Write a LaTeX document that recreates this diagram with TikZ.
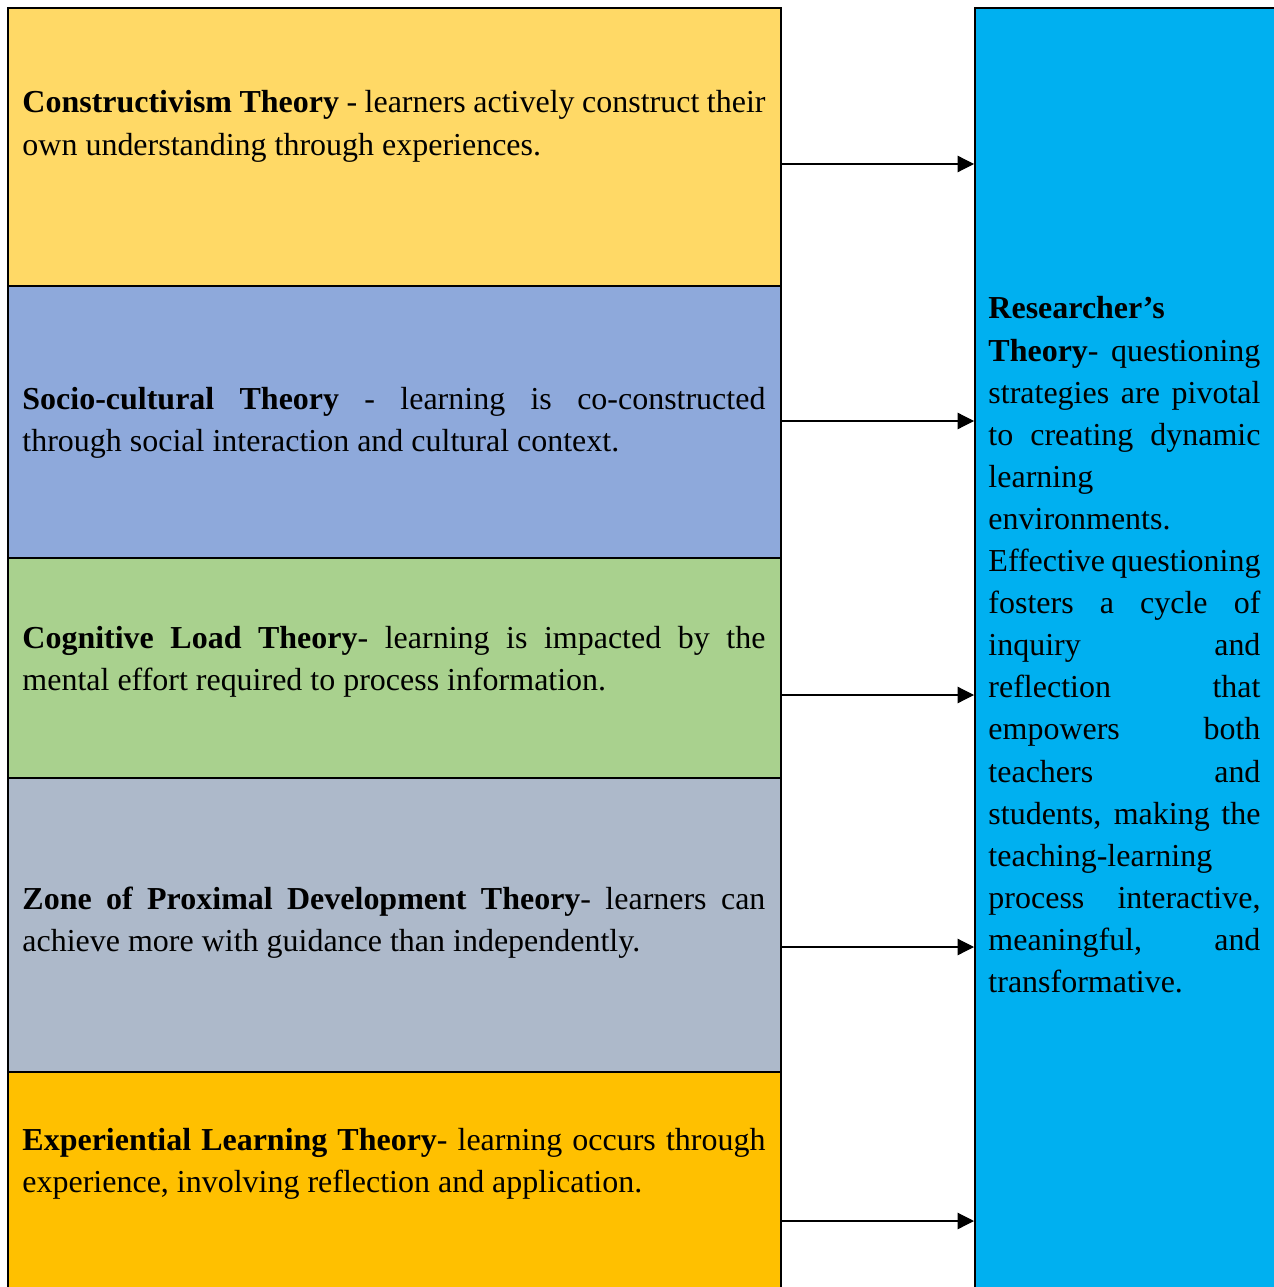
\documentclass[tikz,border=0pt]{standalone}
\usepackage{fontspec}
\setmainfont{Liberation Serif}
\usepackage{xcolor}
\usetikzlibrary{arrows.meta}

\definecolor{consyellow}{HTML}{FFD966}
\definecolor{socblue}{HTML}{8EA9DB}
\definecolor{coggreen}{HTML}{A9D18E}
\definecolor{zpdgrey}{HTML}{ADB9CA}
\definecolor{exporange}{HTML}{FFC000}
\definecolor{rescyan}{HTML}{00B0F0}

\newcommand\pxl{0.43pt}
\tolerance=10000
\hyphenpenalty=10000

\tikzset{
  theory/.style={anchor=north west, draw, line width=1pt, inner sep=0pt,
                 minimum width=773*\pxl},
  blurb/.style={anchor=base west, inner sep=0pt, align=justify,
                text width=743*\pxl, font=\fontsize{13.75}{18.1}\selectfont},
  feed/.style={-{Triangle[length=7pt,width=7pt]}, line width=0.5pt}
}

\begin{document}
\begin{tikzpicture}[x=0.43pt, y=-0.43pt]
  \useasboundingbox (0,0) rectangle (1274,1287);

  % theory boxes on the left
  \node[theory, fill=consyellow, minimum height=278*\pxl] (cons) at (7,7)    {};
  \node[theory, fill=socblue,    minimum height=272*\pxl] (soc)  at (7,285)  {};
  \node[theory, fill=coggreen,   minimum height=220*\pxl] (cog)  at (7,557)  {};
  \node[theory, fill=zpdgrey,    minimum height=294*\pxl] (zpd)  at (7,777)  {};
  \node[theory, fill=exporange,  minimum height=240*\pxl] (exp)  at (7,1071) {};

  % researcher's box on the right
  \node[anchor=north west, draw, line width=1pt, fill=rescyan, inner sep=0pt,
        minimum width=320*\pxl, minimum height=1300*\pxl] (res) at (974,7) {};

  % arrows into the researcher's box
  \draw[feed] (cons.east |- 0,164)  -- (res.west |- 0,164);
  \draw[feed] (soc.east |- 0,421)   -- (res.west |- 0,421);
  \draw[feed] (cog.east |- 0,695)   -- (res.west |- 0,695);
  \draw[feed] (zpd.east |- 0,947)   -- (res.west |- 0,947);
  \draw[feed] (exp.east |- 0,1221)  -- (res.west |- 0,1221);

  % texts
  \node[blurb] (consText) at (22,113)
    {\textbf{Constructivism Theory} - learners actively construct their\linebreak
     own understanding through experiences.};
  \node[blurb] (socText) at (22,409)
    {\textbf{Socio-cultural Theory} - learning is co-constructed\linebreak
     through social interaction and cultural context.};
  \node[blurb] (cogText) at (22,648)
    {\textbf{Cognitive Load Theory}- learning is impacted by the\linebreak
     mental effort required to process information.};
  \node[blurb] (zpdText) at (22,909)
    {\textbf{Zone of Proximal Development Theory}- learners can\linebreak
     achieve more with guidance than independently.};
  \node[blurb] (expText) at (22,1150)
    {\textbf{Experiential Learning Theory}- learning occurs through\linebreak
     experience, involving reflection and application.};

  \node[blurb, text width=272*\pxl] (resText) at (988,319)
    {\textbf{Researcher’s}\newline
     \textbf{Theory}- questioning\linebreak
     strategies are pivotal\linebreak
     to creating dynamic\linebreak
     learning\newline
     environments.\newline
     Effective questioning\linebreak
     fosters a cycle of\linebreak
     inquiry and\linebreak
     reflection that\linebreak
     empowers both\linebreak
     teachers and\linebreak
     students, making the\linebreak
     teaching-learning\newline
     process interactive,\linebreak
     meaningful, and\linebreak
     transformative.};
\end{tikzpicture}
\end{document}
